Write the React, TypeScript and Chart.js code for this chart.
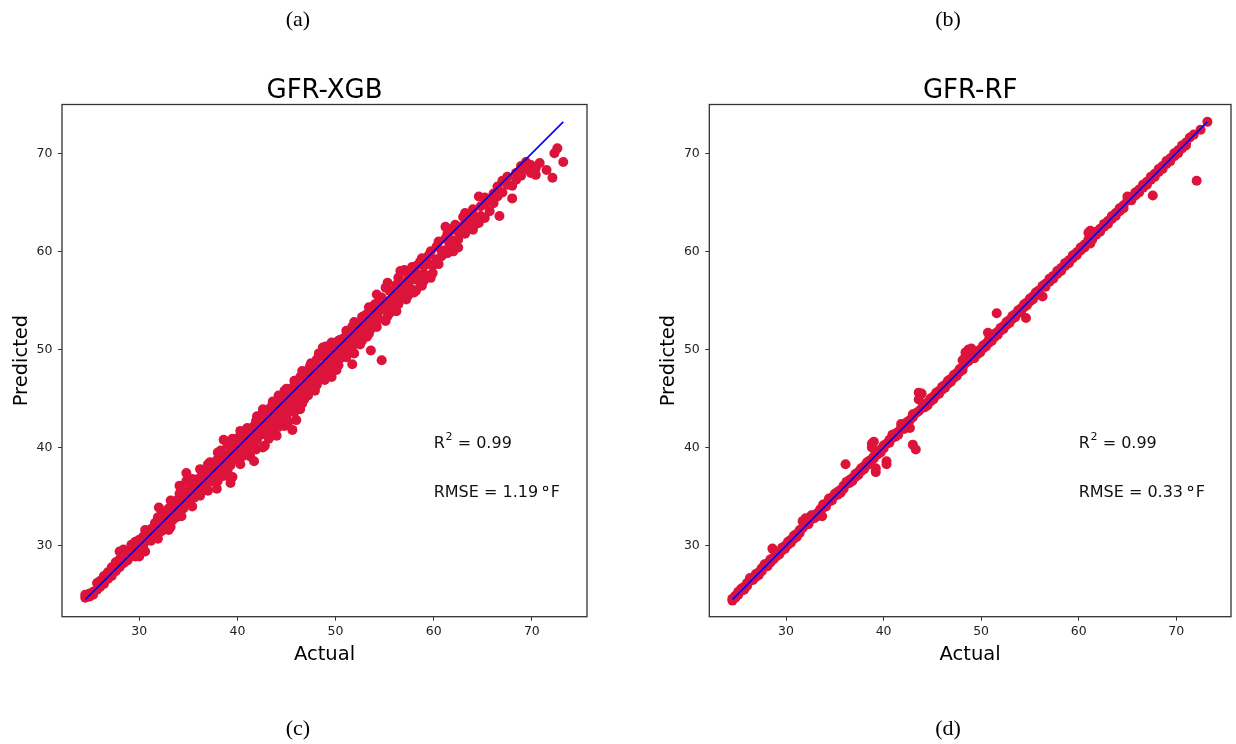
import React, { useEffect, useRef } from "react";
import { Chart, registerables } from "chart.js";

Chart.register(...registerables);

// Each row: [actual, predicted, predicted, ...]
const xgbRows: number[][] = [
  [24.5, 25.0, 24.7], [24.9, 25.1, 24.8], [25.3, 25.3, 25.0], [25.7, 26.2, 25.5],
  [26.0, 25.8, 26.4], [26.4, 26.9, 26.1], [26.8, 27.3, 26.6], [27.2, 27.8, 26.9, 27.1],
  [27.6, 28.3, 27.4], [28.0, 28.6, 29.4, 27.8], [28.4, 29.6, 28.2], [28.8, 29.3, 28.5, 29.0],
  [29.2, 30.1, 28.9, 29.5], [29.6, 30.4, 29.3, 28.9], [30.0, 30.2, 28.9, 30.6, 29.7],
  [30.4, 30.9, 30.2, 29.8], [30.8, 31.4, 30.5, 31.0], [31.2, 31.7, 30.8, 31.3, 30.5],
  [31.6, 32.3, 31.2, 31.0], [32.0, 33.9, 32.6, 31.8, 31.3], [32.3, 33.5, 32.1, 31.5, 32.9],
  [32.7, 33.4, 32.4, 31.9], [33.0, 33.8, 32.7, 31.6, 33.2], [33.4, 34.1, 33.1, 32.6],
  [33.8, 34.6, 33.5, 32.9, 34.0], [34.1, 36.1, 35.3, 34.3, 33.4], [34.5, 35.2, 34.1, 33.8, 34.8],
  [34.8, 37.4, 36.6, 35.0, 34.4], [35.2, 35.8, 34.9, 34.5, 36.3], [35.6, 36.1, 35.3, 34.9],
  [36.0, 36.8, 35.8, 35.4, 36.3], [36.4, 37.3, 36.2, 35.7], [36.8, 37.6, 36.6, 36.0, 37.0],
  [37.2, 38.5, 37.1, 36.5], [37.6, 38.2, 37.3, 36.8, 37.9], [37.9, 38.7, 37.5, 35.8],
  [38.3, 39.7, 38.1, 37.5, 38.9], [38.6, 40.8, 39.1, 38.2, 37.1], [39.0, 40.3, 39.3, 38.5, 37.7],
  [39.3, 39.9, 39.0, 36.4, 38.2], [39.7, 40.6, 39.4, 38.8, 40.1], [40.1, 40.3, 39.5, 38.8, 41.0, 40.8],
  [40.5, 41.1, 40.3, 39.7, 39.1], [40.9, 41.4, 40.5, 39.8], [41.3, 41.7, 40.9, 40.2, 39.1],
  [41.7, 42.2, 41.4, 40.5, 38.6], [42.0, 43.2, 42.4, 41.7, 40.8], [42.4, 43.3, 42.1, 41.3],
  [42.8, 43.1, 42.4, 41.6, 40.2], [43.2, 43.6, 42.9, 42.1, 40.9], [43.6, 44.7, 43.1, 42.3, 41.6],
  [44.0, 44.2, 43.4, 42.8, 41.2], [44.4, 44.6, 43.8, 43.0], [44.8, 45.8, 45.3, 44.3, 43.4, 42.2],
  [45.2, 45.9, 44.9, 44.0, 42.6], [45.6, 46.1, 45.2, 44.4, 41.8], [46.0, 46.4, 45.6, 44.7, 42.8],
  [46.4, 47.2, 46.1, 45.1, 43.9], [46.8, 47.3, 46.3, 45.5, 44.9], [47.2, 47.9, 46.9, 46.0, 45.3],
  [47.5, 48.6, 47.3, 46.3], [47.9, 48.4, 47.5, 46.7, 45.8], [48.3, 49.6, 48.0, 47.1],
  [48.7, 50.2, 49.3, 48.2, 47.3], [49.0, 50.3, 49.4, 48.5, 47.9], [49.4, 50.1, 49.1, 48.1, 47.5],
  [49.8, 50.4, 49.5, 48.6], [50.1, 50.3, 49.7, 47.9, 48.8], [50.5, 51.0, 50.2, 49.1],
  [50.9, 51.2, 50.4, 49.5], [51.3, 51.6, 50.7, 49.8], [51.7, 52.3, 51.1, 50.3, 48.5],
  [52.1, 52.6, 51.4, 50.7], [52.5, 52.2, 51.5, 50.5], [52.9, 53.4, 52.6, 51.8],
  [53.2, 53.6, 52.4, 51.3], [53.6, 53.9, 53.0, 52.1, 49.9], [54.0, 54.6, 53.5, 52.7],
  [54.4, 54.9, 53.9, 53.1], [54.7, 55.3, 54.2, 48.9], [55.1, 56.3, 54.9, 54.1, 52.9],
  [55.5, 56.0, 54.7, 53.7], [55.8, 55.7, 55.0, 54.3], [56.2, 56.6, 55.5, 53.9],
  [56.6, 58.0, 56.3, 55.2], [57.0, 58.1, 56.7, 55.7], [57.4, 57.3, 56.4, 55.5],
  [57.8, 58.4, 57.1, 56.1], [58.2, 58.5, 57.5, 56.0], [58.6, 58.9, 57.6, 56.8],
  [59.0, 58.5, 57.7, 57.0], [59.5, 59.6, 58.7], [59.9, 58.6, 57.8], [60.3, 60.5, 59.2],
  [60.8, 60.1, 59.5], [61.2, 62.5, 61.3, 60.1], [61.6, 62.0, 60.7], [62.0, 62.4, 61.1, 60.0],
  [62.5, 62.0, 61.2, 60.4], [63.0, 63.5, 62.6], [63.4, 63.2, 62.3], [63.9, 63.8, 63.1],
  [64.3, 63.4, 62.8], [64.8, 64.6, 63.6], [65.2, 65.5, 64.8, 63.4], [65.7, 65.3, 64.1],
  [66.1, 65.9, 64.9], [66.5, 66.6, 65.6], [66.7, 63.6], [67.0, 67.2, 66.0], [67.5, 67.6, 66.8],
  [68.0, 66.7, 65.4], [68.4, 68.0, 67.3], [68.9, 68.7, 67.7], [69.4, 69.1, 68.4],
  [69.9, 68.8, 68.0], [70.4, 68.5, 67.8], [70.8, 69.0], [71.5, 68.3], [72.1, 67.5],
  [72.3, 70.0], [72.6, 70.5], [73.2, 69.1],
  // extra points widening the band
  [30.6, 31.6, 29.4], [31.9, 32.9, 30.7], [33.2, 34.6, 31.9], [34.3, 35.8, 33.0],
  [35.4, 36.8, 34.0], [36.2, 37.8, 35.1], [37.0, 38.3, 35.6], [38.0, 39.5, 36.6],
  [38.9, 40.6, 37.4], [39.5, 40.9, 37.0], [40.3, 41.7, 38.3], [41.0, 42.0, 39.4],
  [41.9, 42.7, 39.8], [42.6, 43.9, 40.0], [43.4, 44.1, 41.3], [44.2, 45.3, 42.1],
  [45.0, 46.0, 43.1], [45.8, 46.8, 43.6], [46.6, 47.8, 44.5], [47.4, 48.3, 45.9],
  [48.1, 49.0, 46.4], [48.9, 49.9, 46.9], [49.6, 50.7, 47.2], [50.3, 50.9, 48.4],
  [51.1, 51.9, 49.2], [51.9, 52.8, 49.6], [52.7, 53.3, 50.9], [53.4, 54.3, 51.6],
  [54.2, 55.6, 52.3], [55.3, 56.8, 53.4], [56.4, 57.3, 54.6], [57.2, 57.9, 55.1],
  [58.0, 58.0, 55.8], [58.8, 59.3, 56.5], [59.7, 60.0, 57.3], [60.5, 61.0, 58.7],
  [61.4, 61.8, 59.8], [62.2, 62.7, 60.9], [63.2, 63.9, 61.8], [64.0, 64.3, 62.2],
  [64.6, 65.6, 62.9],
];

const rfRows: number[][] = [
  [24.5, 24.6, 24.4], [24.8, 24.9, 24.7], [25.1, 25.3, 25.0], [25.4, 25.4, 25.6],
  [25.7, 25.8, 25.5], [26.0, 26.2, 25.9], [26.3, 26.4, 26.7], [26.6, 26.6, 26.5],
  [26.9, 27.1, 26.8], [27.2, 27.3, 27.0], [27.5, 27.7, 27.4], [27.8, 27.9, 28.1],
  [28.1, 28.2, 27.9], [28.4, 28.6, 28.3], [28.6, 29.7], [28.7, 28.8, 28.6],
  [29.0, 29.2, 28.9], [29.3, 29.3, 29.1], [29.6, 29.8, 29.5], [29.9, 30.0, 29.7],
  [30.2, 30.4, 30.1], [30.5, 30.6, 30.3], [30.8, 31.0, 30.7], [31.1, 31.2, 30.9],
  [31.4, 31.6, 31.3], [31.7, 31.8, 32.5], [32.0, 32.1, 32.8], [32.3, 32.5, 32.2],
  [32.6, 32.7, 33.1], [32.9, 33.1, 32.8], [33.2, 33.3, 33.0], [33.5, 33.7, 33.4],
  [33.7, 33.0], [33.8, 33.9, 34.2], [34.1, 34.3, 34.0], [34.4, 34.5, 34.8],
  [34.7, 34.9, 34.6], [35.0, 35.1, 35.3], [35.3, 35.5, 35.2], [35.6, 35.7, 35.4],
  [35.9, 36.1, 35.8], [36.1, 38.3], [36.2, 36.3, 36.5], [36.5, 36.7, 36.4],
  [36.8, 36.9, 36.6], [37.1, 37.3, 37.0], [37.4, 37.5, 37.2], [37.7, 37.9, 37.6],
  [38.0, 38.1, 37.8], [38.3, 38.5, 38.2], [38.6, 38.7, 38.4], [38.8, 40.4, 40.0],
  [39.0, 39.1, 40.6, 38.9], [39.2, 37.5, 37.9], [39.4, 39.6, 39.3], [39.7, 39.8, 39.5],
  [40.0, 40.2, 39.9], [40.3, 40.4, 38.3, 38.6], [40.6, 40.8, 40.5], [40.9, 41.0, 41.3],
  [41.2, 41.4, 41.1], [41.5, 41.6, 41.3], [41.8, 42.0, 42.4], [42.1, 42.2, 41.9],
  [42.4, 42.6, 42.1], [42.7, 42.8, 42.0], [43.0, 43.1, 40.3, 43.4], [43.3, 43.5, 39.8],
  [43.6, 43.7, 44.9, 45.6], [43.9, 44.0, 45.5], [44.2, 44.4, 44.1], [44.5, 44.6, 44.3],
  [44.8, 45.0, 44.7], [45.1, 45.2, 44.9], [45.4, 45.6, 45.3], [45.7, 45.8, 45.5],
  [46.0, 46.2, 45.9], [46.3, 46.4, 46.1], [46.6, 46.8, 46.5], [46.9, 47.0, 46.7],
  [47.2, 47.4, 47.1], [47.5, 47.6, 47.3], [47.8, 48.0, 47.7], [48.1, 48.2, 47.9, 48.9],
  [48.4, 48.6, 49.7, 49.3], [48.7, 48.8, 50.0, 49.6], [49.0, 49.2, 50.1], [49.3, 49.4, 49.1],
  [49.6, 49.8, 49.5], [49.9, 50.0, 49.7], [50.2, 50.4, 50.1], [50.5, 50.6, 50.3],
  [50.7, 51.7], [50.8, 51.0, 50.7], [51.1, 51.2, 50.9], [51.4, 51.6, 51.3], [51.6, 53.7],
  [51.7, 51.8, 51.5], [52.0, 52.2, 51.9], [52.3, 52.4, 52.1], [52.6, 52.8, 52.5],
  [52.9, 53.0, 52.7], [53.2, 53.4, 53.1], [53.5, 53.6, 53.3], [53.8, 54.0, 53.7],
  [54.1, 54.2, 53.9], [54.4, 54.6, 54.3], [54.6, 53.2], [54.7, 54.8, 54.5],
  [55.0, 55.2, 54.9], [55.3, 55.4, 55.1], [55.6, 55.8, 55.5], [55.9, 56.0, 55.7],
  [56.3, 56.5, 55.4], [56.6, 56.7, 56.4], [57.0, 57.2, 56.9], [57.4, 57.5, 57.2],
  [57.8, 58.0, 57.7], [58.2, 58.3, 58.0], [58.6, 58.8, 58.5], [59.0, 59.1, 58.8],
  [59.4, 59.6, 59.3], [59.8, 59.9, 59.6], [60.2, 60.4, 60.1], [60.6, 60.7, 60.4],
  [61.0, 61.2, 61.9], [61.2, 62.1, 60.8], [61.4, 61.5, 61.2], [61.8, 62.0, 61.7],
  [62.2, 62.3, 62.0], [62.6, 62.8, 62.5], [63.0, 63.1, 62.8], [63.4, 63.6, 63.3],
  [63.8, 63.9, 63.6], [64.2, 64.4, 64.1], [64.6, 64.7, 64.4], [65.0, 65.2, 65.6],
  [65.4, 65.5, 65.2], [65.8, 66.0, 65.7], [66.2, 66.3, 66.0], [66.6, 66.8, 66.5],
  [67.0, 67.1, 66.8], [67.4, 67.6, 67.3], [67.6, 65.7], [67.8, 67.9, 67.6],
  [68.2, 68.4, 68.1], [68.6, 68.7, 68.4], [69.0, 69.2, 68.9], [69.4, 69.5, 69.2],
  [69.8, 70.0, 69.7], [70.2, 70.3, 70.0], [70.6, 70.8, 70.5], [71.0, 71.1, 70.8],
  [71.4, 71.6], [71.8, 71.9], [72.1, 67.2], [72.5, 72.4], [73.2, 73.2],
];

const xTickValues = [30, 40, 50, 60, 70];
const yTickValues = [30, 40, 50, 60, 70];
const xLimits = [22.13, 75.62];
const yLimits = [22.76, 74.97];
const panelTitles = ["GFR-XGB", "GFR-RF"];
const r2Values = ["0.99", "0.99"];
const rmseValues = ["1.19", "0.33"];
const annotationX = 60;
const annotationY = [40, 35];

const FONT = '"DejaVu Sans", sans-serif';

function rowsToPoints(rows: number[][]) {
  const pts: { x: number; y: number }[] = [];
  rows.forEach((r) => {
    for (let i = 1; i < r.length; i++) pts.push({ x: r[0], y: r[i] });
  });
  return pts;
}

const decorPlugin = {
  id: "decor",
  afterDraw(chart: any, _args: any, opts: any) {
    const { ctx, chartArea: a, scales } = chart;
    ctx.save();
    ctx.strokeStyle = "#333";
    ctx.lineWidth = 1.3;
    ctx.strokeRect(a.left, a.top, a.right - a.left, a.bottom - a.top);
    ctx.fillStyle = "#000";
    ctx.textBaseline = "alphabetic";
    ctx.textAlign = "center";
    ctx.font = `26px ${FONT}`;
    ctx.fillText(opts.title, (a.left + a.right) / 2, a.top - 7);
    ctx.font = `19.5px ${FONT}`;
    ctx.fillText("Actual", (a.left + a.right) / 2, a.bottom + 43.3);
    ctx.save();
    ctx.translate(a.left - 35, (a.top + a.bottom) / 2);
    ctx.rotate(-Math.PI / 2);
    ctx.fillText("Predicted", 0, 0);
    ctx.restore();
    const x0 = scales.x.getPixelForValue(annotationX);
    const y1 = scales.y.getPixelForValue(annotationY[0]);
    const y2 = scales.y.getPixelForValue(annotationY[1]);
    ctx.textAlign = "left";
    ctx.fillStyle = "#111";
    ctx.font = `16px ${FONT}`;
    ctx.fillText("R", x0, y1);
    const wR = ctx.measureText("R").width;
    ctx.font = `11px ${FONT}`;
    ctx.fillText("2", x0 + wR + 0.8, y1 - 7.2);
    const w2 = ctx.measureText("2").width;
    ctx.font = `16px ${FONT}`;
    ctx.fillText(" = " + opts.r2, x0 + wR + 0.8 + w2, y1);
    const rmseText = "RMSE = " + opts.rmse + " ";
    ctx.fillText(rmseText, x0, y2);
    const wT = ctx.measureText(rmseText).width;
    ctx.beginPath();
    ctx.strokeStyle = "#111";
    ctx.lineWidth = 1.1;
    ctx.arc(x0 + wT + 2.4, y2 - 8.2, 2.1, 0, Math.PI * 2);
    ctx.stroke();
    ctx.fillText("F", x0 + wT + 7.6, y2);
    ctx.restore();
  },
};

function Panel(props: { idx: number; rows: number[][]; padLeft: number; padRight: number }) {
  const ref = useRef<HTMLCanvasElement | null>(null);
  useEffect(() => {
    const canvas = ref.current;
    if (!canvas) return;
    const actual = props.rows.map((r) => r[0]);
    const lo = Math.min(...actual);
    const hi = Math.max(...actual);
    const tickFont = { family: FONT, size: 12.5 };
    const chart = new Chart(canvas, {
      type: "scatter",
      data: {
        datasets: [
          {
            type: "line",
            data: [
              { x: lo, y: lo },
              { x: hi, y: hi },
            ],
            borderColor: "#0000ff",
            borderWidth: 1.6,
            pointRadius: 0,
            fill: false,
            order: 0,
          } as any,
          {
            type: "scatter",
            data: rowsToPoints(props.rows),
            backgroundColor: "#dc143c",
            borderWidth: 0,
            pointRadius: 5,
            pointHoverRadius: 5,
            order: 1,
          },
        ],
      },
      options: {
        responsive: false,
        animation: false,
        events: [],
        layout: {
          padding: { left: props.padLeft, right: props.padRight, top: 104.5, bottom: 97.3 },
        },
        plugins: {
          legend: { display: false },
          tooltip: { enabled: false },
          title: { display: false },
          decor: { title: panelTitles[props.idx], r2: r2Values[props.idx], rmse: rmseValues[props.idx] },
        } as any,
        scales: {
          x: {
            type: "linear",
            min: xLimits[0],
            max: xLimits[1],
            afterFit: (s: any) => {
              s.height = 30;
            },
            afterBuildTicks: (s: any) => {
              s.ticks = xTickValues.map((v) => ({ value: v }));
            },
            ticks: {
              font: tickFont,
              color: "#222",
              padding: 3.5,
              maxRotation: 0,
              autoSkip: false,
              callback: (v: any) => String(v),
            },
            grid: { display: true, drawOnChartArea: false, drawTicks: true, tickLength: 4, color: "#333", lineWidth: 1 },
            border: { display: false },
          },
          y: {
            type: "linear",
            min: yLimits[0],
            max: yLimits[1],
            afterFit: (s: any) => {
              s.width = 40;
            },
            afterBuildTicks: (s: any) => {
              s.ticks = yTickValues.map((v) => ({ value: v }));
            },
            ticks: {
              font: tickFont,
              color: "#222",
              padding: 5.5,
              autoSkip: false,
              callback: (v: any) => String(v),
            },
            grid: { display: true, drawOnChartArea: false, drawTicks: true, tickLength: 4, color: "#333", lineWidth: 1 },
            border: { display: false },
          },
        },
      },
      plugins: [decorPlugin as any],
    });
    return () => chart.destroy();
  }, []);
  return (
    <canvas
      ref={ref}
      width={618}
      height={744}
      style={{ position: "absolute", left: props.idx * 618, top: 0, width: 618, height: 744 }}
    />
  );
}

const captionStyle = (cx: number, top: number): React.CSSProperties => ({
  position: "absolute",
  left: cx - 50,
  top,
  width: 100,
  textAlign: "center",
  fontFamily: '"Liberation Serif", "Times New Roman", serif',
  fontSize: 22,
  lineHeight: "22px",
  color: "#000",
});

export default function App() {
  return (
    <div style={{ position: "fixed", left: 0, top: 0, width: 1236, height: 744, background: "#fff", overflow: "hidden" }}>
      <Panel idx={0} rows={xgbRows} padLeft={22} padRight={31} />
      <Panel idx={1} rows={rfRows} padLeft={51.3} padRight={1.7} />
      <div style={captionStyle(298, 7.6)}>(a)</div>
      <div style={captionStyle(948, 7.6)}>(b)</div>
      <div style={captionStyle(298, 716.6)}>(c)</div>
      <div style={captionStyle(948, 716.6)}>(d)</div>
    </div>
  );
}
